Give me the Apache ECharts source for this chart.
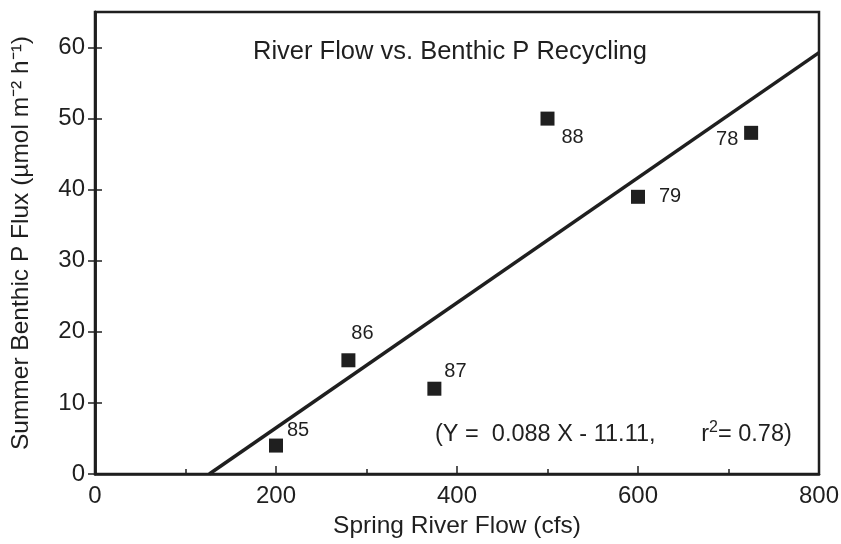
<!DOCTYPE html>
<html>
<head>
<meta charset="utf-8">
<script src="https://cdn.jsdelivr.net/npm/echarts@6/dist/echarts.min.js"></script>
<style>
  html, body { margin: 0; padding: 0; background: #fff; }
  #chart { width: 841px; height: 544px; }
</style>
</head>
<body>
<div id="chart"></div>
<script>
// Spring river flow (cfs) and summer benthic P flux, one point per year
const years = ['85', '86', '87', '88', '79', '78'];
const riverFlow = [200, 280, 375, 500, 600, 725];
const pFlux = [4, 16, 12, 50, 39, 48];

// Least-squares fit as printed on the chart
const fitSlope = 0.088;
const fitIntercept = -11.11;
const fitR2 = 0.78;
const fitXEnd = 800;

const xTicks = [0, 200, 400, 600, 800];
const xMinorTicks = [100, 300, 500, 700];
const yTicks = [0, 10, 20, 30, 40, 50, 60];

// Year label placement around each marker (pixels)
const labelOffsets = {
  '85': [22, -15], '86': [14, -27], '87': [21, -17],
  '88': [25, 19], '79': [32, 0], '78': [-24, 7]
};

const ink = '#1f1f1f';
const font = '"Liberation Sans", Arial, sans-serif';

const points = riverFlow.map((x, i) => ({
  value: [x, pFlux[i]],
  name: years[i],
  label: { offset: labelOffsets[years[i]] }
}));

const fitXStart = -fitIntercept / fitSlope;
const fitLine = [
  [fitXStart, 0],
  [fitXEnd, fitSlope * fitXEnd + fitIntercept]
];

const chart = echarts.init(document.getElementById('chart'), null, { renderer: 'canvas' });

chart.setOption({
  animation: false,
  backgroundColor: '#fff',
  title: {
    text: 'River Flow vs. Benthic P Recycling',
    left: 248, top: 34,
    textStyle: { fontFamily: font, fontSize: 25.5, fontWeight: 'normal', color: ink }
  },
  grid: {
    left: 95, right: 22, top: 12, bottom: 70,
    outerBoundsMode: 'none',
    containLabel: false,
    show: true, borderColor: ink, borderWidth: 2.5, backgroundColor: 'transparent'
  },
  xAxis: [{
    type: 'value', min: 0, max: 800, interval: 200,
    name: 'Spring River Flow (cfs)', nameLocation: 'middle', nameGap: 40,
    nameTextStyle: { fontFamily: font, fontSize: 24.5, color: ink },
    axisLine: { show: true, lineStyle: { color: ink, width: 2.5 } },
    axisTick: { show: true, inside: true, length: 8, lineStyle: { color: ink, width: 1.5 },
                customValues: xTicks },
    minorTick: { show: false },
    axisLabel: { fontFamily: font, fontSize: 24, color: ink, margin: 10, customValues: xTicks },
    splitLine: { show: false }
  }, {
    type: 'value', min: 0, max: 800, position: 'bottom',
    axisLine: { show: false },
    axisTick: { show: true, inside: true, length: 5, lineStyle: { color: ink, width: 1.5 },
                customValues: xMinorTicks },
    axisLabel: { show: false },
    splitLine: { show: false }
  }],
  yAxis: [{
    type: 'value', min: 0, max: 65, interval: 5,
    name: 'Summer Benthic P Flux (µmol m⁻² h⁻¹)', nameLocation: 'middle', nameGap: 61,
    nameTextStyle: { fontFamily: font, fontSize: 24.5, color: ink },
    axisLine: { show: true, lineStyle: { color: ink, width: 2.5 } },
    axisTick: { show: true, inside: true, length: 7, lineStyle: { color: ink, width: 1.5 },
                customValues: yTicks },
    axisLabel: { fontFamily: font, fontSize: 24, color: ink, margin: 10, customValues: yTicks },
    splitLine: { show: false }
  }, {
    type: 'value', min: 0, max: 65, position: 'right',
    axisLine: { show: true, lineStyle: { color: ink, width: 2.5 } },
    axisTick: { show: true, inside: true, length: 7, lineStyle: { color: ink, width: 1.5 },
                customValues: yTicks },
    axisLabel: { show: false },
    splitLine: { show: false }
  }],
  graphic: [{
    type: 'text', left: 435, top: 420,
    style: {
      text: '{n|(Y =  ' + fitSlope.toFixed(3) + ' X - ' + Math.abs(fitIntercept).toFixed(2) +
            ',       r}{sup|2}{n|= ' + fitR2.toFixed(2) + ')}',
      fontFamily: font, fontSize: 23.5, fill: ink,
      rich: {
        n: { fontFamily: font, fontSize: 23.5, fill: ink, lineHeight: 27, verticalAlign: 'bottom' },
        sup: { fontFamily: font, fontSize: 16, fill: ink, lineHeight: 18, verticalAlign: 'top' }
      }
    }
  }],
  series: [{
    type: 'line',
    data: fitLine,
    showSymbol: false,
    lineStyle: { color: ink, width: 3.5 },
    silent: true,
    z: 2
  }, {
    type: 'scatter',
    data: points,
    symbol: 'rect',
    symbolSize: 14,
    itemStyle: { color: ink, opacity: 1 },
    label: {
      show: true, position: 'inside',
      formatter: p => p.name,
      fontFamily: font, fontSize: 20, color: ink,
      align: 'center', verticalAlign: 'middle'
    },
    z: 3
  }]
});
</script>
</body>
</html>
